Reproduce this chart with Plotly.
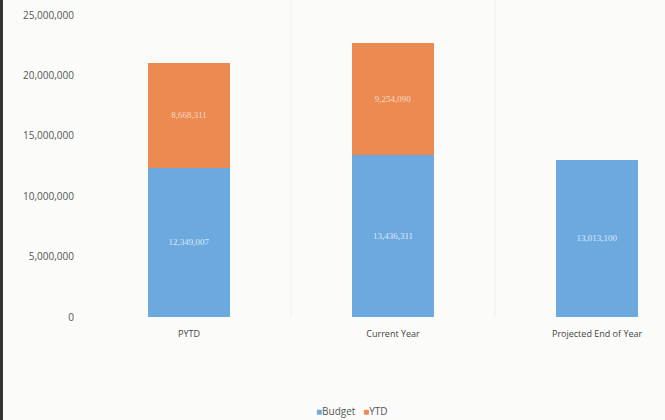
import plotly.graph_objects as go

categories = ["PYTD", "Current Year", "Projected End of Year"]
budget = [12349007, 13436311, 13013100]
ytd = [8668311, 9254090, None]
y_ticks = [0, 5000000, 10000000, 15000000, 20000000, 25000000]
series_names = ["Budget", "YTD"]
series_colors = ["#6CA9DF", "#EB8B52"]

def fmt(v):
    return "" if v is None else f"{v:,}"

fig = go.Figure()
fig.add_trace(go.Bar(
    name=series_names[0], x=categories, y=budget,
    marker=dict(color=series_colors[0], line=dict(width=0)),
    text=[fmt(v) for v in budget], textposition="inside", insidetextanchor="middle",
    textfont=dict(color="#DCEAF7", size=9, family="Liberation Serif"),
    width=0.40,
))
fig.add_trace(go.Bar(
    name=series_names[1], x=categories, y=ytd,
    marker=dict(color=series_colors[1], line=dict(width=0)),
    text=[fmt(v) for v in ytd], textposition="inside", insidetextanchor="middle",
    textfont=dict(color="#F6D9C4", size=9, family="Liberation Serif"),
    width=0.40,
))

fig.update_layout(
    barmode="stack",
    width=665, height=420,
    margin=dict(l=87, r=0, t=15, b=103),
    paper_bgcolor="#FBFBF9", plot_bgcolor="#FBFBF9",
    font=dict(family="Open Sans", size=10, color="#555555"),
    showlegend=False,
    uniformtext=dict(minsize=8, mode="show"),
)
fig.update_xaxes(
    range=[-0.5, 2.333], showgrid=False, showline=False, zeroline=False,
    ticks="", tickfont=dict(size=9, color="#444444"), ticklabelstandoff=10,
)
fig.update_yaxes(
    range=[0, 25000000], tickvals=y_ticks, tickformat=",d",
    showgrid=False, zeroline=False, showline=False, ticks="",
    tickfont=dict(size=10, color="#555555"), ticklabelstandoff=12,
)
# faint category separators
for xv in [0.5, 1.5]:
    fig.add_shape(type="line", xref="x", yref="paper", x0=xv, x1=xv, y0=0, y1=1.05,
                  line=dict(color="#EEEEEE", width=1), layer="below")
# scan border at left edge
fig.add_shape(type="line", xref="paper", yref="paper", x0=-0.148, x1=-0.148, y0=-0.5, y1=1.2,
              line=dict(color="#333333", width=3))

# legend as annotation with small swatches
legend_text = "&nbsp;&nbsp;&nbsp;".join(
    f"<span style='color:{c}'>■</span>{n}" for n, c in zip(series_names, series_colors)
)
fig.add_annotation(text=legend_text, xref="paper", yref="paper", x=0.458, y=-0.31,
                   xanchor="center", yanchor="middle", showarrow=False,
                   font=dict(size=10, color="#555555"))

fig.write_html("out.html")
